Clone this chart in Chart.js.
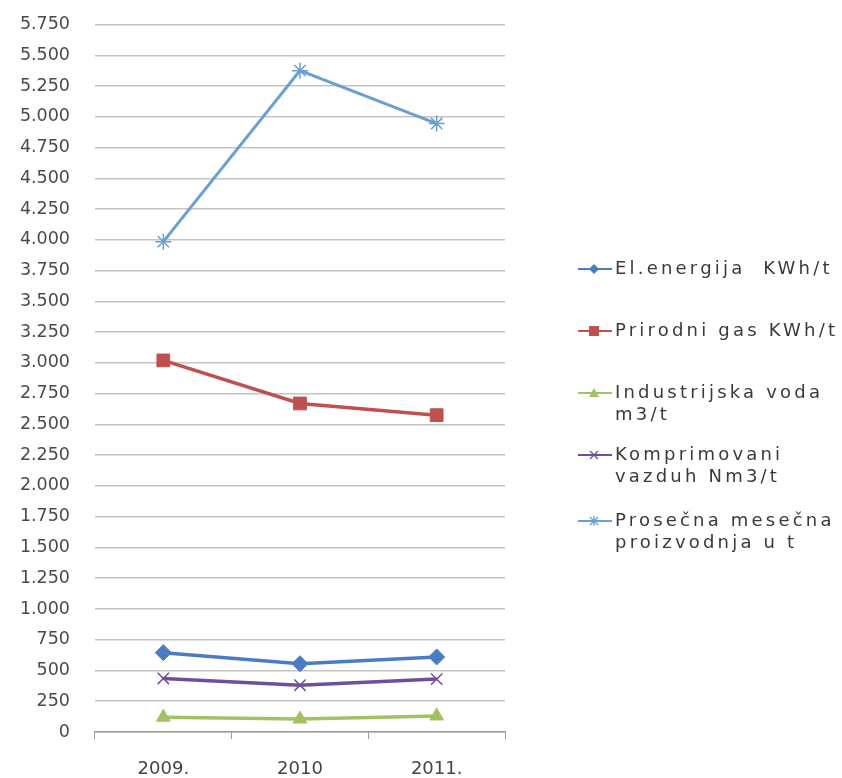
<!DOCTYPE html>
<html>
<head>
<meta charset="utf-8">
<script src="https://cdn.jsdelivr.net/npm/chart.js@4.4.0/dist/chart.umd.min.js"></script>
<style>
  body { margin: 0; background: #fff; }
  #wrap { position: relative; width: 842px; height: 778px; overflow: hidden; }
  #legend { position: absolute; left: 576px; top: 0; font-family: "DejaVu Sans", sans-serif; font-size: 18px; letter-spacing: 3.2px; color: #3a3a3a; }
  .item { position: absolute; left: 0; width: 270px; display: flex; align-items: flex-start; white-space: nowrap; }
  .item svg { flex: none; margin-top: 1px; }
  .item span { margin-left: 3px; line-height: 22px; }
</style>
</head>
<body>
<div id="wrap">
  <canvas id="chart" width="842" height="778"></canvas>
  <div id="legend"></div>
</div>
<script>
// data
const years = ['2009.', '2010', '2011.'];
const elEnergija = [645, 555, 610];
const prirodniGas = [3020, 2670, 2575];
const industrijskaVoda = [120, 105, 130];
const komprimovaniVazduh = [435, 380, 430];
const prosecnaProizvodnja = [3985, 5375, 4945];

const seriesNames = ['El.energija  KWh/t', 'Prirodni gas KWh/t', ['Industrijska voda', 'm3/t'], ['Komprimovani', 'vazduh Nm3/t'], ['Prosečna mesečna', 'proizvodnja u t']];
const seriesColors = ['#4a7cc4', '#c0504d', '#a3c363', '#6f4f9c', '#6a9fd2'];
const markerStyles = ['rectRot', 'rect', 'triangle', 'crossRot', 'star'];
const legendTops = [257, 319, 381, 443, 509];

const allData = [elEnergija, prirodniGas, industrijskaVoda, komprimovaniVazduh, prosecnaProizvodnja];

const datasets = allData.map(function (values, i) {
  return {
    label: Array.isArray(seriesNames[i]) ? seriesNames[i].join(' ') : seriesNames[i],
    data: values,
    borderColor: seriesColors[i],
    backgroundColor: seriesColors[i],
    borderWidth: i === 4 ? 3 : 3.5,
    pointStyle: markerStyles[i],
    pointRadius: i === 1 ? 9 : 8,
    pointBorderColor: seriesColors[i],
    pointBackgroundColor: seriesColors[i],
    pointBorderWidth: (i === 3 || i === 4) ? 1.5 : 1,
    tension: 0
  };
});

function fmt(v) {
  return v.toString().replace(/\B(?=(\d{3})+(?!\d))/g, '.');
}

const ctx = document.getElementById('chart').getContext('2d');
const chart = new Chart(ctx, {
  type: 'line',
  data: { labels: years, datasets: datasets },
  options: {
    responsive: false,
    animation: false,
    layout: { autoPadding: false, padding: { top: 14, right: 337, left: 0, bottom: 0 } },
    plugins: { legend: { display: false }, tooltip: { enabled: false } },
    scales: {
      x: {
        offset: true,
        grid: { display: true, drawOnChartArea: false, color: '#9a9a9a', tickLength: 7, offset: true },
        border: { color: '#9a9a9a', width: 1.5 },
        ticks: { color: '#444', font: { family: 'DejaVu Sans', size: 18 }, padding: 20 },
        afterFit: function (scale) { scale.height = 46; }
      },
      y: {
        min: 0,
        max: 5750,
        // padding kept small so the top gridline sits near the canvas top; invisible tick marks push labels left
        ticks: { stepSize: 250, color: '#4a4a4a', font: { family: 'DejaVu Sans', size: 17.5 }, padding: 14, callback: function (v) { return fmt(v); } },
        grid: { color: '#c4c4c4', lineWidth: 1.5, drawTicks: true, tickLength: 11, tickColor: 'rgba(0,0,0,0)' },
        border: { display: false },
        afterFit: function (scale) { scale.width = 95; }
      }
    }
  }
});

// legend on the right, built from the datasets
const legend = document.getElementById('legend');
chart.data.datasets.forEach(function (ds, i) {
  const item = document.createElement('div');
  item.className = 'item';
  item.style.top = legendTops[i] + 'px';
  const c = ds.borderColor;
  let marker = '';
  if (i === 0) marker = '<polygon points="18,6 23,11 18,16 13,11" fill="' + c + '"/>';
  if (i === 1) marker = '<rect x="13" y="6" width="10" height="10" fill="' + c + '"/>';
  if (i === 2) marker = '<polygon points="18,6 23,15 13,15" fill="' + c + '"/>';
  if (i === 3) marker = '<path d="M14 7 L22 15 M22 7 L14 15" stroke="' + c + '" stroke-width="1.3"/>';
  if (i === 4) marker = '<path d="M14 7 L22 15 M22 7 L14 15 M18 6 L18 16" stroke="' + c + '" stroke-width="1.3"/>';
  item.innerHTML = '<svg width="36" height="22"><line x1="2" y1="11" x2="36" y2="11" stroke="' + c + '" stroke-width="2"/>' + marker + '</svg>';
  const text = document.createElement('span');
  const name = seriesNames[i];
  text.innerHTML = Array.isArray(name) ? name.join('<br>') : name.replace('  ', '&nbsp; ');
  item.appendChild(text);
  legend.appendChild(item);
});
</script>
</body>
</html>
